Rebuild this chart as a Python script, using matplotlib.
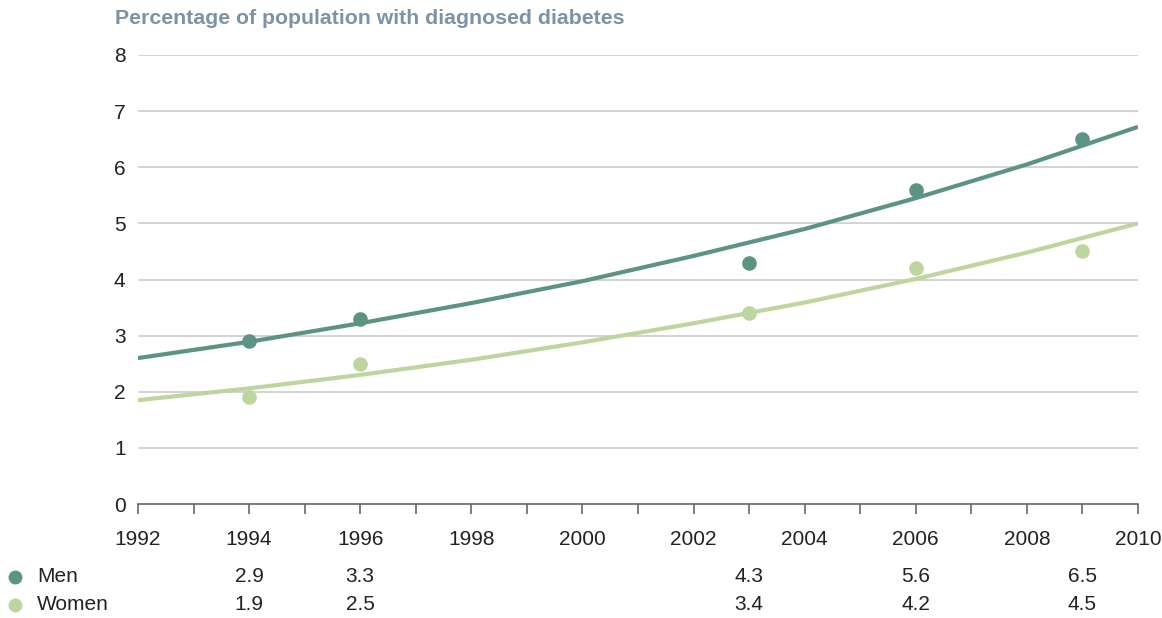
import matplotlib
matplotlib.use("Agg")
import matplotlib.pyplot as plt

# survey years and measured percentages
years = [1994, 1996, 2003, 2006, 2009]
men = [2.9, 3.3, 4.3, 5.6, 6.5]
women = [1.9, 2.5, 3.4, 4.2, 4.5]

# trend lines every two years
trend_years = [1992, 1994, 1996, 1998, 2000, 2002, 2004, 2006, 2008, 2010]
men_trend = [2.60, 2.89, 3.22, 3.58, 3.97, 4.42, 4.90, 5.45, 6.05, 6.72]
women_trend = [1.85, 2.06, 2.30, 2.57, 2.88, 3.22, 3.59, 4.01, 4.48, 5.00]

men_col = "#5b9484"
women_col = "#bdd69f"
txt_col = "#222222"

plt.rcParams['font.family'] = ['Liberation Sans', 'DejaVu Sans']

fig = plt.figure(figsize=(11.62, 6.18), dpi=100)
ax = fig.add_axes([138/1162, 1-504/618, 1000/1162, 449/618])

ax.set_xlim(1992, 2010)
ax.set_ylim(0, 8)

# horizontal grid lines
for g in range(1, 9):
    ax.axhline(g, color="#d3d3d3", lw=1.4, zorder=1)

ax.plot(trend_years, men_trend, color=men_col, lw=3, zorder=3, solid_capstyle='butt')
ax.plot(trend_years, women_trend, color=women_col, lw=3, zorder=3, solid_capstyle='butt')
ax.plot(years, men, 'o', color=men_col, ms=9.5, zorder=4)
ax.plot(years, women, 'o', color=women_col, ms=9.5, zorder=4)

for s in ['top', 'right', 'left']:
    ax.spines[s].set_visible(False)
ax.spines['bottom'].set_color("#666666")
ax.spines['bottom'].set_linewidth(1.2)

ax.set_xticks(range(1992, 2011))
ax.set_xticklabels([str(y) if y % 2 == 0 else "" for y in range(1992, 2011)])
ax.tick_params(axis='x', direction='out', length=7, width=1.2, color="#666666",
               labelsize=15, labelcolor=txt_col, pad=11.5)
ax.set_yticks(range(0, 9))
ax.tick_params(axis='y', length=0, labelsize=15, labelcolor=txt_col, pad=9)

fig.text(115/1162, 1-18.5/618, "Percentage of population with diagnosed diabetes",
         fontsize=15.3, fontweight='bold', color="#7b93a8", va='center', ha='left')

# data table under the axis
row_y = [1-577/618, 1-605/618]
labels = ["Men", "Women"]
cols = [men_col, women_col]
vals = [men, women]
for ry, lab, c, v in zip(row_y, labels, cols, vals):
    fig.text(37/1162, ry, lab, fontsize=15, color=txt_col, va='center', ha='left')
    fig.lines.append(plt.Line2D([15/1162], [ry], marker='o', color=c, ms=9,
                                transform=fig.transFigure))
    for yr, val in zip(years, v):
        xf = ax.transData.transform((yr, 0))[0] / fig.bbox.width
        fig.text(xf, ry, f"{val:.1f}", fontsize=15, color=txt_col, va='center', ha='center')

fig.savefig("out.png", dpi=100)
